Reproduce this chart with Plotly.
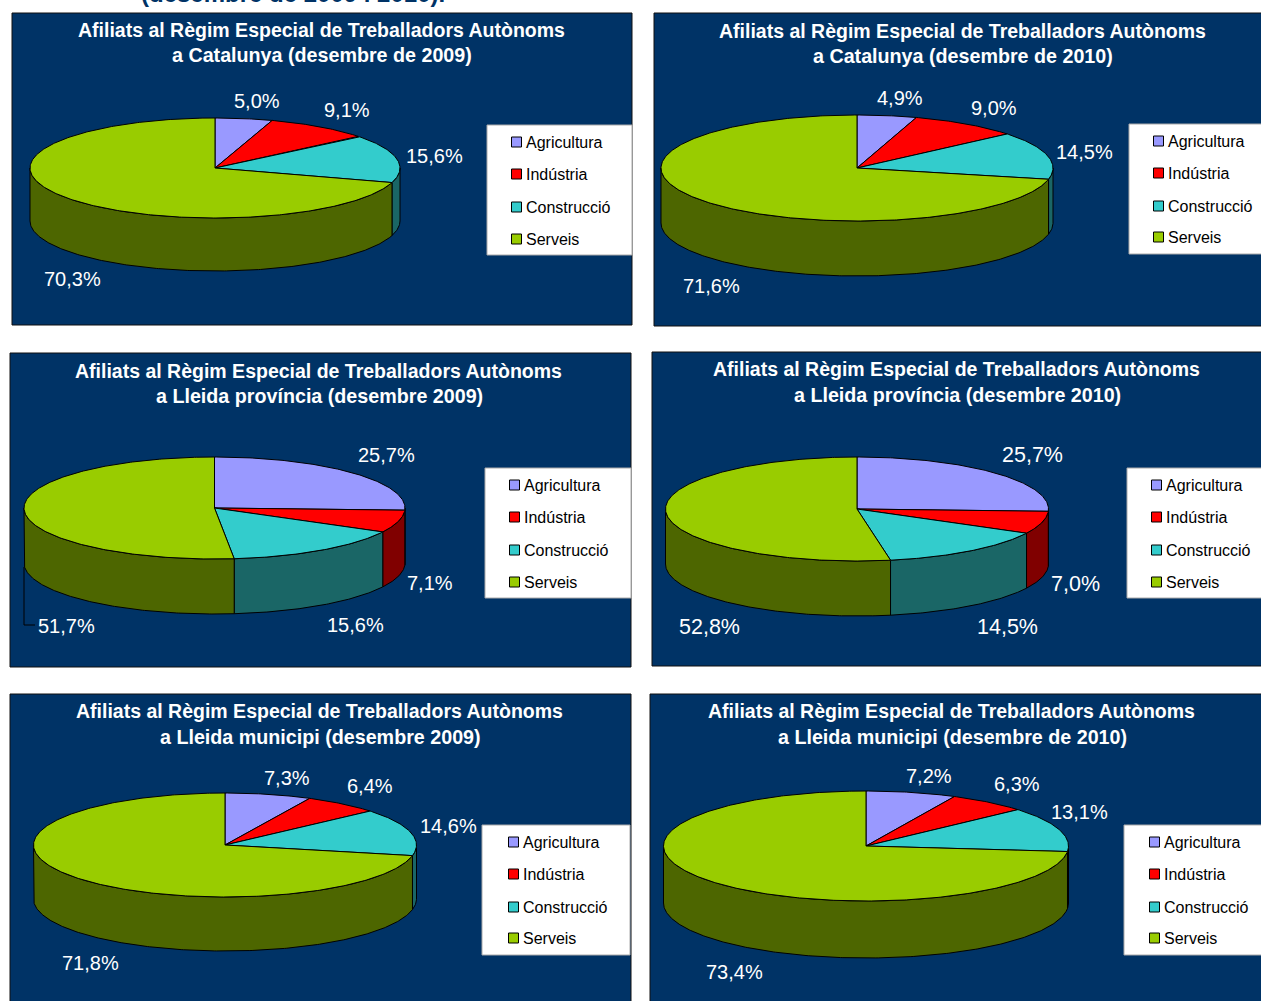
import numpy as np
import plotly.graph_objects as go

# ---- data ----
categories = ["Agricultura", "Indústria", "Construcció", "Serveis"]
titles_line1 = "Afiliats al Règim Especial de Treballadors Autònoms"
titles_line2 = [
    "a Catalunya (desembre de 2009)",
    "a Catalunya (desembre de 2010)",
    "a Lleida província (desembre 2009)",
    "a Lleida província (desembre 2010)",
    "a Lleida municipi (desembre 2009)",
    "a Lleida municipi (desembre de 2010)",
]
catalunya_2009 = [5.0, 9.1, 15.6, 70.3]
catalunya_2010 = [4.9, 9.0, 14.5, 71.6]
provincia_2009 = [25.7, 7.1, 15.6, 51.7]
provincia_2010 = [25.7, 7.0, 14.5, 52.8]
municipi_2009 = [7.3, 6.4, 14.6, 71.8]
municipi_2010 = [7.2, 6.3, 13.1, 73.4]
all_values = [catalunya_2009, catalunya_2010, provincia_2009,
              provincia_2010, municipi_2009, municipi_2010]
top_caption = "(desembre de 2009 i 2010)."

# ---- styling and layout ----
top_colors = ["#9999FF", "#FF0000", "#33CCCC", "#99CC00"]
side_colors = ["#4D4D80", "#800000", "#1A6666", "#4D6600"]
NAVY = "#003366"
FONT = "Liberation Sans, Arial, sans-serif"

panels = [
    dict(rect=(12, 13, 632, 325), pie=(215, 168, 185, 50, 53), title=(321, 322, 30, 55),
         legend=(487, 125, 632, 255), swatch=516.5, text=524, rows=(142, 174, 207, 239),
         label_size=20, labels=[(257, 101), (347, 110), (434, 156), (72, 279)]),
    dict(rect=(654, 13, 1275, 326), pie=(857, 168, 196, 53, 55), title=(962, 962.5, 31, 56),
         legend=(1129, 124, 1275, 254), swatch=1158.5, text=1166, rows=(141, 173, 206, 237),
         label_size=20, labels=[(900, 98), (994, 108), (1084, 152), (711, 286)]),
    dict(rect=(10, 353, 631, 667), pie=(214.5, 508, 190.5, 51, 55), title=(318, 319, 371, 396),
         legend=(485, 468, 631, 598), swatch=514.5, text=522, rows=(485, 517, 550, 582),
         label_size=20, labels=[(386, 455), (430, 583), (355, 625), (66, 626)]),
    dict(rect=(652, 352, 1275, 666), pie=(857, 509, 191.5, 52, 55), title=(956, 957, 369, 395),
         legend=(1127, 468, 1275, 598), swatch=1156.5, text=1164, rows=(485, 517, 550, 582),
         label_size=21.5, labels=[(1032, 455), (1075, 584), (1007, 627), (709, 627)]),
    dict(rect=(10, 694, 631, 1015), pie=(225, 845, 191.5, 52, 54), title=(319, 320, 711, 737),
         legend=(482, 825, 630, 955), swatch=513.5, text=521, rows=(842, 874, 907, 938),
         label_size=20, labels=[(287, 778), (370, 786), (448, 826), (90, 963)]),
    dict(rect=(650, 694, 1275, 1015), pie=(866, 846, 202.5, 55, 57), title=(951, 952, 711, 737),
         legend=(1124, 825, 1275, 955), swatch=1154.5, text=1162, rows=(842, 874, 907, 938),
         label_size=20, labels=[(929, 776), (1017, 784), (1079, 812), (734, 972)]),
]


def arc(cx, cy, rx, ry, a0, a1):
    n = max(2, int(abs(a1 - a0) * 1.5) + 1)
    t = np.radians(np.linspace(a0, a1, n))
    return cx + rx * np.sin(t), cy - ry * np.cos(t)


def poly(fig, xs, ys, fill, name):
    fig.add_trace(go.Scatter(x=xs, y=ys, mode="lines", fill="toself", fillcolor=fill,
                             line=dict(color="#000000", width=1), name=name,
                             showlegend=False, hoverinfo="skip"))


fig = go.Figure()
shapes, annotations = [], []


def add_text(x, y, text, size, bold=False, color="#FFFFFF", anchor="center"):
    annotations.append(dict(x=x, y=y, xref="x", yref="y", text=f"<b>{text}</b>" if bold else text,
                            showarrow=False, xanchor=anchor, yanchor="middle",
                            font=dict(family=FONT, size=size, color=color)))


# caption cut off by the top edge of the page, as in the reference
annotations.append(dict(x=293, y=1, xref="x", yref="paper", yshift=7,
                        text=f"<b>{top_caption}</b>", showarrow=False,
                        xanchor="center", yanchor="middle",
                        font=dict(family=FONT, size=24, color=NAVY)))

for panel, values, line2 in zip(panels, all_values, titles_line2):
    x0, y0, x1, y1 = panel["rect"]
    shapes.append(dict(type="rect", xref="x", yref="y", x0=x0, y0=y0, x1=x1, y1=y1,
                       fillcolor=NAVY, line=dict(color="#111111", width=1), layer="below"))
    lx0, ly0, lx1, ly1 = panel["legend"]
    shapes.append(dict(type="rect", xref="x", yref="y", x0=lx0, y0=ly0, x1=lx1, y1=ly1,
                       fillcolor="#FFFFFF", line=dict(color="#AAAAAA", width=1), layer="below"))

    cx, cy, rx, ry, depth = panel["pie"]
    total = sum(values)
    edges = np.concatenate([[0], np.cumsum(values)]) / total * 360

    # outer wall: only the part of each slice on the front half of the disc
    for i, cat in enumerate(categories):
        a0, a1 = max(edges[i], 90), min(edges[i + 1], 270)
        if a1 > a0:
            ax, ay = arc(cx, cy, rx, ry, a0, a1)
            poly(fig, np.r_[ax, ax[::-1], ax[0]], np.r_[ay, ay[::-1] + depth, ay[0]],
                 side_colors[i], cat)
    # top face
    for i, cat in enumerate(categories):
        ax, ay = arc(cx, cy, rx, ry, edges[i], edges[i + 1])
        poly(fig, np.r_[cx, ax, cx], np.r_[cy, ay, cy], top_colors[i], cat)

    tx1, tx2, ty1, ty2 = panel["title"]
    add_text(tx1, ty1, titles_line1, 19.5, bold=True)
    add_text(tx2, ty2, line2, 19.7, bold=True)

    for (px, py), v in zip(panel["labels"], values):
        add_text(px, py, f"{v:.1f}%".replace(".", ","), panel["label_size"])

    fig.add_trace(go.Scatter(x=[panel["swatch"]] * 4, y=list(panel["rows"]), mode="markers",
                             marker=dict(symbol="square", size=10, color=top_colors,
                                         line=dict(color="#000000", width=1)),
                             showlegend=False, hoverinfo="skip"))
    for row, cat in zip(panel["rows"], categories):
        add_text(panel["text"], row, cat, 16, color="#000000", anchor="left")

# leader line for the 51,7% label
leader_x = [24, 24, 35]
leader_y = [567, 625, 625]
fig.add_trace(go.Scatter(x=leader_x, y=leader_y, mode="lines",
                         line=dict(color="#000000", width=1),
                         showlegend=False, hoverinfo="skip"))

fig.update_layout(
    width=1261, height=1001, margin=dict(l=0, r=0, t=0, b=0),
    paper_bgcolor="#FFFFFF", plot_bgcolor="#FFFFFF", showlegend=False,
    xaxis=dict(range=[0, 1261], visible=False, fixedrange=True),
    yaxis=dict(range=[1001, 0], visible=False, fixedrange=True),
    shapes=shapes, annotations=annotations,
)
fig.write_html("out.html", config={"displayModeBar": False},
               post_script="document.body.style.margin='0';document.body.style.overflow='hidden';")
